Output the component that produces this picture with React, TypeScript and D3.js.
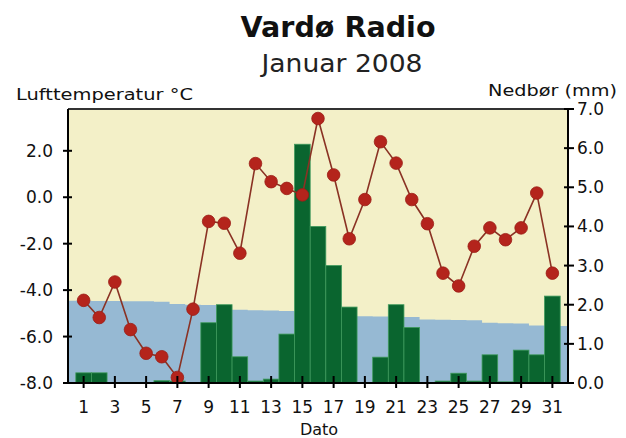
import React from "react";
import * as d3 from "d3";

const days = d3.range(1, 32);
const temperature = [-4.44, -5.18, -3.65, -5.7, -6.72, -6.87, -7.76, -4.82, -1.04, -1.12, -2.41, 1.45, 0.67, 0.38, 0.1, 3.39, 0.96, -1.79, -0.1, 2.39, 1.47, -0.1, -1.14, -3.27, -3.82, -2.11, -1.32, -1.83, -1.32, 0.18, -3.27];
const precipitation = [0.26, 0.26, 0, 0, 0, 0.06, 0.05, 0, 1.54, 2.0, 0.67, 0.05, 0.1, 1.25, 6.1, 4.0, 3.0, 1.94, 0, 0.66, 2.0, 1.42, 0, 0.05, 0.25, 0.05, 0.72, 0.03, 0.84, 0.72, 2.22];
const normalTemp = [-4.46, -4.47, -4.47, -4.48, -4.48, -4.5, -4.6, -4.63, -4.64, -4.66, -4.85, -4.87, -4.88, -4.9, -4.95, -5.0, -5.05, -5.1, -5.13, -5.14, -5.15, -5.16, -5.26, -5.28, -5.29, -5.3, -5.41, -5.43, -5.44, -5.52, -5.54];
const leftTicks = [-8, -6, -4, -2, 0, 2];
const rightTicks = [0, 1, 2, 3, 4, 5, 6, 7];
const xTicks = d3.range(1, 32, 2);

const W = 626, H = 438;
const L = 68, R = 568, T = 109, B = 383;
const font = "DejaVu Sans, Verdana, sans-serif";

export default function App() {
  const x = d3.scaleLinear().domain([0, 32]).range([L, R]);
  const yT = d3.scaleLinear().domain([-8, 3.8]).range([B, T]);
  const yP = d3.scaleLinear().domain([0, 7]).range([B, T]);

  const normalPts: [number, number][] = [];
  normalTemp.forEach((v, i) => {
    const d = days[i];
    const x0 = i === 0 ? 0 : d - 0.5;
    const x1 = i === normalTemp.length - 1 ? 32 : d + 0.5;
    normalPts.push([x0, v], [x1, v]);
  });
  const area = d3.area<[number, number]>().x((p) => x(p[0])).y0(B).y1((p) => yT(p[1]));
  const line = d3.line<number>().x((_, i) => x(days[i])).y((v) => yT(v));
  const bw = x(1) - x(0);

  return (
    <svg width={W} height={H} style={{ position: "absolute", left: 0, top: 0, background: "#fff" }}>
      <text x={338} y={37} textAnchor="middle" fontFamily={font} fontWeight="bold" fontSize={28} fill="#111" textLength={195} lengthAdjust="spacingAndGlyphs">Vardø Radio</text>
      <text x={342} y={72} textAnchor="middle" fontFamily={font} fontSize={25} fill="#222" textLength={161} lengthAdjust="spacingAndGlyphs">Januar 2008</text>
      <text x={16} y={100} fontFamily={font} fontSize={15} fill="#111" textLength={177} lengthAdjust="spacingAndGlyphs">Lufttemperatur °C</text>
      <text x={488} y={96} fontFamily={font} fontSize={15} fill="#111" textLength={129} lengthAdjust="spacingAndGlyphs">Nedbør (mm)</text>

      <rect x={L} y={T} width={R - L} height={B - T} fill="#f3f0c8" />
      <path d={area(normalPts) || ""} fill="#96b9d3" />

      {precipitation.map((p, i) =>
        p > 0 ? (
          <rect key={i} x={x(days[i] - 0.5)} y={yP(p)} width={bw} height={B - yP(p)} fill="#0a652f" stroke="#3f9a5c" strokeWidth={0.8} />
        ) : null
      )}

      <path d={line(temperature) || ""} fill="none" stroke="#8a3224" strokeWidth={1.6} />
      {temperature.map((t, i) => (
        <circle key={i} cx={x(days[i])} cy={yT(t)} r={6.3} fill="#b4241c" stroke="#9a1d15" strokeWidth={0.8} />
      ))}

      <line x1={L} x2={R} y1={T} y2={T} stroke="#333" strokeWidth={2} />
      <line x1={L} x2={L} y1={T} y2={B} stroke="#000" strokeWidth={2} />
      <line x1={R} x2={R} y1={T} y2={B} stroke="#000" strokeWidth={2} />
      <line x1={L} x2={R} y1={B} y2={B} stroke="#000" strokeWidth={2} />

      {leftTicks.map((t) => (
        <g key={"l" + t}>
          <line x1={L - 5} x2={L + 4} y1={yT(t)} y2={yT(t)} stroke="#000" strokeWidth={2} />
          <text x={53} y={yT(t) + 6} textAnchor="end" fontFamily={font} fontSize={17} fill="#111">{t.toFixed(1)}</text>
        </g>
      ))}
      {rightTicks.map((p) => (
        <g key={"r" + p}>
          <line x1={R - 4} x2={R + 6} y1={yP(p)} y2={yP(p)} stroke="#000" strokeWidth={2} />
          <text x={577} y={yP(p) + 6} fontFamily={font} fontSize={17} fill="#111">{p.toFixed(1)}</text>
        </g>
      ))}
      {xTicks.map((d) => (
        <g key={"x" + d}>
          <line x1={x(d)} x2={x(d)} y1={B - 7} y2={B + 5} stroke="#000" strokeWidth={2} />
          <text x={x(d)} y={413} textAnchor="middle" fontFamily={font} fontSize={17} fill="#111">{d}</text>
        </g>
      ))}
      <text x={319} y={435} textAnchor="middle" fontFamily={font} fontSize={16} fill="#111">Dato</text>
    </svg>
  );
}
